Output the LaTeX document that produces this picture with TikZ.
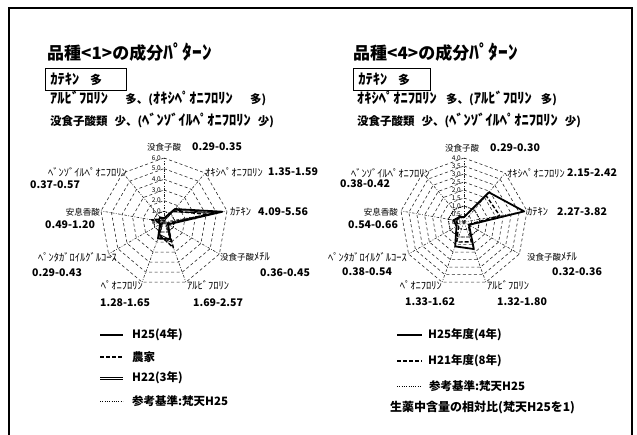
\documentclass[tikz,border=0pt]{standalone}
\usepackage{fontspec}
\setmainfont{Noto Sans CJK JP}
\newcommand\kt[1]{{\fontsize{14.5}{14}\selectfont #1}}
\newcommand\ktt[1]{{\fontsize{19.5}{17}\selectfont #1}}
\newcommand\ks[1]{{\fontsize{10.5}{10}\selectfont #1}}
\newcommand\radarpoly[4]{%
  \foreach \v [count=\i from 0] in {#3} {\coordinate (#1-\i) at ({90-40*\i}:{\v*#2 pt});}
  \draw[#4] (#1-0) -- (#1-1) -- (#1-2) -- (#1-3) -- (#1-4) -- (#1-5) -- (#1-6) -- (#1-7) -- (#1-8) -- cycle;}
\newcommand\radartwin[4]{%
  \foreach \v [count=\i from 0] in {#3} {\coordinate (#1-\i) at ({90-40*\i}:{max(\v*#2-2.3,0.6)*1pt});}
  \draw[#4] (#1-0) -- (#1-1) -- (#1-2) -- (#1-3) -- (#1-4) -- (#1-5) -- (#1-6) -- (#1-7) -- (#1-8) -- cycle;}
\begin{document}
\begin{tikzpicture}[x=1pt,y=-1pt,
  frame/.style={line width=1.2pt},
  gridring/.style={line width=0.6pt, dash pattern=on 3pt off 2.5pt, black!85},
  spoke/.style={line width=0.6pt, dash pattern=on 2.5pt off 1.5pt on 0.8pt off 1.5pt, black!85},
  serA/.style={line width=1.8pt, line join=round},
  serB/.style={line width=1.4pt, dash pattern=on 4pt off 2pt, line join=round},
  thinl/.style={line width=0.7pt, line join=round},
  refser/.style={line width=0.9pt, dash pattern=on 1pt off 1.3pt},
  title/.style={anchor=west, font=\bfseries\fontsize{17}{17}\selectfont, inner sep=0},
  sub/.style={anchor=west, font=\bfseries\fontsize{11.5}{14}\selectfont, inner sep=0},
  axname/.style={font=\fontsize{8.5}{9}\selectfont, inner sep=0},
  val/.style={anchor=west, font=\bfseries\fontsize{10.5}{11}\selectfont, inner sep=0},
  scalelab/.style={font=\fontsize{6.5}{7}\selectfont, inner sep=0, anchor=east},
  legtext/.style={anchor=west, font=\bfseries\fontsize{11.5}{12}\selectfont, inner sep=0}]
\useasboundingbox (0,0) rectangle (637,434);
% outer frame
\coordinate (fBL) at (9,436);
\coordinate (fTL) at (9,8);
\coordinate (fTR) at (632,8);
\coordinate (fBR) at (632,436);
\draw[frame] (fBL) -- (fTL) -- (fTR) -- (fBR);

% ---------- left panel ----------
\node[title] (t1) at (47,52) {品種<1>の成分\ktt{ﾊﾟﾀｰﾝ}};
\node[draw, line width=0.8pt, anchor=west, inner xsep=5pt, inner ysep=0pt, minimum height=22pt, text width=71pt, font=\bfseries\fontsize{12}{14}\selectfont] (b1) at (45,79) {\kt{ｶﾃｷﾝ}\hspace{0.9em}多};
\node[sub] (s1a) at (50,98) {\kt{ｱﾙﾋﾞﾌﾛﾘﾝ}\hspace{1.5em}多、(\kt{ｵｷｼﾍﾟｵﾆﾌﾛﾘﾝ}\hspace{1.5em}多)};
\node[sub] (s1b) at (50,120) {没食子酸類\hspace{0.6em}少、(\kt{ﾍﾞﾝｿﾞｲﾙﾍﾟｵﾆﾌﾛﾘﾝ}\hspace{0.6em}少)};

\begin{scope}[shift={(164,222)}]
  \coordinate (Lc) at (0,0);
  \foreach \i in {0,...,8} \coordinate (Lax\i) at ({90-40*\i}:64pt);
  \foreach \k in {1,...,6}
    \draw[gridring] (90:{\k*10.667pt}) \foreach \a in {50,10,-30,-70,-110,-150,170,130} {-- (\a:{\k*10.667pt})} -- cycle;
  \foreach \i in {0,...,8} \draw[spoke] (Lc) -- (Lax\i);
  \radarpoly{Lref}{10.667}{1,1,1,1,1,1,1,1,1}{refser}
  \radarpoly{LC}{10.667}{0.32,1.45,5.0,0.40,2.0,1.45,0.35,0.8,0.45}{thinl}
  \radartwin{LCi}{10.667}{0.32,1.45,5.0,0.40,2.0,1.45,0.35,0.8,0.45}{thinl}
  \radarpoly{LB}{10.667}{0.29,1.35,4.09,0.36,2.57,1.28,0.29,1.20,0.37}{serB}
  \radarpoly{LA}{10.667}{0.35,1.59,5.56,0.45,1.69,1.65,0.43,0.49,0.57}{serA}
\end{scope}
\foreach \k in {0,...,6} \node[scalelab] (Lsc\k) at (161,{222-\k*10.667}) {\k.0};

\node[axname, anchor=west] (Ln0) at (147,147) {没食子酸};
\node[val] (Lv0) at (192,147) {0.29-0.35};
\node[axname, anchor=west] (Ln1) at (205,172) {\ks{ｵｷｼﾍﾟｵﾆﾌﾛﾘﾝ}};
\node[val] (Lv1) at (268,172) {1.35-1.59};
\node[axname, anchor=west] (Ln2) at (230,212) {\ks{ｶﾃｷﾝ}};
\node[val] (Lv2) at (258,212) {4.09-5.56};
\node[axname, anchor=west] (Ln3) at (220,257) {没食子酸\ks{ﾒﾁﾙ}};
\node[val] (Lv3) at (260,273) {0.36-0.45};
\node[axname, anchor=west] (Ln4) at (187,285) {\ks{ｱﾙﾋﾞﾌﾛﾘﾝ}};
\node[val] (Lv4) at (193,303) {1.69-2.57};
\node[axname, anchor=east] (Ln5) at (143,285) {\ks{ﾍﾟｵﾆﾌﾛﾘﾝ}};
\node[val] (Lv5) at (100,303) {1.28-1.65};
\node[axname, anchor=east] (Ln6) at (117,257) {\ks{ﾍﾟﾝﾀｶﾞﾛｲﾙｸﾞﾙｺｰｽ}};
\node[val] (Lv6) at (32,273) {0.29-0.43};
\node[axname, anchor=east] (Ln7) at (100,212) {安息香酸};
\node[val] (Lv7) at (45,225) {0.49-1.20};
\node[axname, anchor=east] (Ln8) at (127,172) {\ks{ﾍﾞﾝｿﾞｲﾙﾍﾟｵﾆﾌﾛﾘﾝ}};
\node[val] (Lv8) at (30,185) {0.37-0.57};

% left legend
\coordinate (lgA1) at (100,335); \coordinate (lgA2) at (123,335);
\coordinate (lgB1) at (100,357); \coordinate (lgB2) at (123,357);
\coordinate (lgC1) at (100,377); \coordinate (lgC2) at (123,377);
\coordinate (lgE1) at (100,379.6); \coordinate (lgE2) at (123,379.6);
\coordinate (lgD1) at (100,401); \coordinate (lgD2) at (123,401);
\draw[serA] (lgA1) -- (lgA2);
\draw[serB] (lgB1) -- (lgB2);
\draw[thinl] (lgC1) -- (lgC2);
\draw[thinl] (lgE1) -- (lgE2);
\draw[refser] (lgD1) -- (lgD2);
\node[legtext] (ltA) at (132,335) {H25(4年)};
\node[legtext] (ltB) at (132,357) {農家};
\node[legtext] (ltC) at (132,378) {H22(3年)};
\node[legtext] (ltD) at (132,401) {参考基準:梵天H25};

% ---------- right panel ----------
\node[title] (t4) at (353,52) {品種<4>の成分\ktt{ﾊﾟﾀｰﾝ}};
\node[draw, line width=0.8pt, anchor=west, inner xsep=5pt, inner ysep=0pt, minimum height=22pt, text width=67pt, font=\bfseries\fontsize{12}{14}\selectfont] (b4) at (353,79) {\kt{ｶﾃｷﾝ}\hspace{0.9em}多};
\node[sub] (s4a) at (357,98) {\kt{ｵｷｼﾍﾟｵﾆﾌﾛﾘﾝ}\hspace{0.8em}多、(\kt{ｱﾙﾋﾞﾌﾛﾘﾝ}\hspace{0.8em}多)};
\node[sub] (s4b) at (357,120) {没食子酸類\hspace{0.6em}少、(\kt{ﾍﾞﾝｿﾞｲﾙﾍﾟｵﾆﾌﾛﾘﾝ}\hspace{0.6em}少)};

\begin{scope}[shift={(464,222)}]
  \coordinate (Rc) at (0,0);
  \foreach \i in {0,...,8} \coordinate (Rax\i) at ({90-40*\i}:64pt);
  \foreach \k in {1,...,8}
    \draw[gridring] (90:{\k*8pt}) \foreach \a in {50,10,-30,-70,-110,-150,170,130} {-- (\a:{\k*8pt})} -- cycle;
  \foreach \i in {0,...,8} \draw[spoke] (Rc) -- (Rax\i);
  \radarpoly{Rref}{16}{1,1,1,1,1,1,1,1,1}{refser}
  \radarpoly{RB}{16}{0.29,2.15,2.27,0.32,1.32,1.33,0.38,0.54,0.38}{serB}
  \radarpoly{RA}{16}{0.30,2.42,3.82,0.36,1.80,1.62,0.54,0.66,0.42}{serA}
\end{scope}
\foreach \k/\t in {0/0.0,1/0.5,2/1.0,3/1.5,4/2.0,5/2.5,6/3.0,7/3.5,8/4.0}
  \node[scalelab] (Rsc\k) at (461,{222-\k*8}) {\t};

\node[axname, anchor=west] (Rn0) at (445,148) {没食子酸};
\node[val] (Rv0) at (490,148) {0.29-0.30};
\node[axname, anchor=west] (Rn1) at (507,173) {\ks{ｵｷｼﾍﾟｵﾆﾌﾛﾘﾝ}};
\node[val] (Rv1) at (567,173) {2.15-2.42};
\node[axname, anchor=west] (Rn2) at (527,212) {\ks{ｶﾃｷﾝ}};
\node[val] (Rv2) at (557,212) {2.27-3.82};
\node[axname, anchor=west] (Rn3) at (527,257) {没食子酸\ks{ﾒﾁﾙ}};
\node[val] (Rv3) at (552,272) {0.32-0.36};
\node[axname, anchor=west] (Rn4) at (487,285) {\ks{ｱﾙﾋﾞﾌﾛﾘﾝ}};
\node[val] (Rv4) at (497,302) {1.32-1.80};
\node[axname, anchor=east] (Rn5) at (442,285) {\ks{ﾍﾟｵﾆﾌﾛﾘﾝ}};
\node[val] (Rv5) at (405,302) {1.33-1.62};
\node[axname, anchor=east] (Rn6) at (407,257) {\ks{ﾍﾟﾝﾀｶﾞﾛｲﾙｸﾞﾙｺｰｽ}};
\node[val] (Rv6) at (342,272) {0.38-0.54};
\node[axname, anchor=east] (Rn7) at (398,212) {安息香酸};
\node[val] (Rv7) at (348,225) {0.54-0.66};
\node[axname, anchor=east] (Rn8) at (430,173) {\ks{ﾍﾞﾝｿﾞｲﾙﾍﾟｵﾆﾌﾛﾘﾝ}};
\node[val] (Rv8) at (340,184) {0.38-0.42};

% right legend
\coordinate (rgA1) at (397,335); \coordinate (rgA2) at (422,335);
\coordinate (rgB1) at (397,361); \coordinate (rgB2) at (422,361);
\coordinate (rgD1) at (397,386); \coordinate (rgD2) at (422,386);
\draw[serA] (rgA1) -- (rgA2);
\draw[serB] (rgB1) -- (rgB2);
\draw[refser] (rgD1) -- (rgD2);
\node[legtext] (rtA) at (428,335) {H25年度(4年)};
\node[legtext] (rtB) at (428,361) {H21年度(8年)};
\node[legtext] (rtD) at (429,386) {参考基準:梵天H25};
\node[legtext, font=\bfseries\fontsize{12}{12}\selectfont] (rnote) at (390,408) {生薬中含量の相対比(梵天H25を1)};
\end{tikzpicture}
\end{document}
